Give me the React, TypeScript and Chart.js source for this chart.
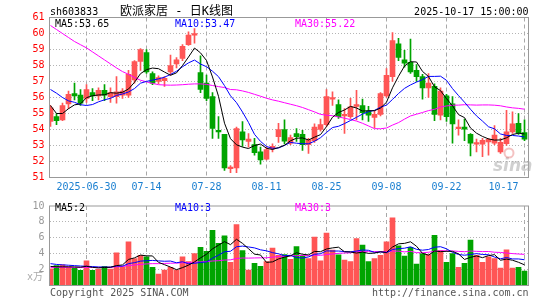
import React, { useEffect, useRef } from 'react';
import { Chart, registerables } from 'chart.js';
Chart.register(...registerables);

const tradeDates = [
  '2025-06-20','2025-06-23','2025-06-24','2025-06-25','2025-06-26','2025-06-27',
  '2025-06-30','2025-07-01','2025-07-02','2025-07-03','2025-07-04',
  '2025-07-07','2025-07-08','2025-07-09','2025-07-10','2025-07-11',
  '2025-07-14','2025-07-15','2025-07-16','2025-07-17','2025-07-18',
  '2025-07-21','2025-07-22','2025-07-23','2025-07-24','2025-07-25',
  '2025-07-28','2025-07-29','2025-07-30','2025-07-31','2025-08-01',
  '2025-08-04','2025-08-05','2025-08-06','2025-08-07','2025-08-08',
  '2025-08-11','2025-08-12','2025-08-13','2025-08-14','2025-08-15',
  '2025-08-18','2025-08-19','2025-08-20','2025-08-21','2025-08-22',
  '2025-08-25','2025-08-26','2025-08-27','2025-08-28','2025-08-29',
  '2025-09-01','2025-09-02','2025-09-03','2025-09-04','2025-09-05',
  '2025-09-08','2025-09-09','2025-09-10','2025-09-11','2025-09-12',
  '2025-09-15','2025-09-16','2025-09-17','2025-09-18','2025-09-19',
  '2025-09-22','2025-09-23','2025-09-24','2025-09-25','2025-09-26',
  '2025-09-29','2025-09-30','2025-10-09','2025-10-10',
  '2025-10-13','2025-10-14','2025-10-15','2025-10-16','2025-10-17',
];

const axisDates = ['2025-06-30','2025-07-14','2025-07-28','2025-08-11','2025-08-25','2025-09-08','2025-09-22','2025-10-17'];

const opens = [54.5,54.8,54.6,55.6,56.25,56.15,55.95,56.3,56.1,56.45,56.05,56.05,56.15,56.15,57.1,58.25,58.8,57.5,57.0,57.05,57.6,58.1,58.45,59.3,59.9,57.55,56.9,56.05,53.95,53.7,51.55,51.6,53.85,53.25,53.05,52.6,52.15,52.8,53.55,54.0,53.15,53.75,53.7,53.05,53.3,54.0,54.3,55.9,55.55,54.85,54.8,55.45,55.5,55.15,54.75,54.95,56.1,57.3,59.35,58.35,58.2,57.7,57.3,56.6,56.7,54.9,56.1,55.6,54.05,54.15,53.7,53.08,53.08,53.22,53.15,52.6,53.12,53.85,54.38,53.8];
const highs = [55.5,55.0,55.65,56.4,56.9,56.5,56.8,56.55,56.6,56.8,56.6,57.3,56.55,57.7,58.3,59.05,59.0,57.6,57.35,57.3,58.65,58.5,59.3,60.1,60.3,58.6,57.4,56.3,54.8,53.7,51.75,54.15,54.5,53.75,53.45,52.9,52.9,53.1,54.38,54.6,53.65,54.05,53.95,53.45,54.35,54.65,56.5,56.35,55.85,55.3,55.95,56.45,55.9,55.45,55.2,56.3,57.8,60.05,59.7,58.95,59.65,58.05,57.45,57.5,56.85,56.6,56.2,56.05,54.6,54.65,53.75,53.4,53.45,53.45,54.25,53.45,55.2,55.1,55.0,54.6];
const lows = [54.2,54.3,54.55,55.3,55.85,55.5,55.7,55.8,55.85,55.8,55.7,55.65,55.95,56.0,56.9,57.7,57.5,56.8,56.85,56.7,57.4,57.85,58.3,59.25,59.4,56.3,55.8,53.45,53.45,51.45,51.3,51.3,52.95,52.9,52.4,51.83,52.1,52.6,53.2,53.1,53.05,53.25,52.7,52.5,53.2,53.9,54.2,55.5,54.7,53.75,54.7,54.6,54.6,54.5,54.1,54.85,56.0,57.0,58.3,57.9,57.5,57.0,55.9,56.0,54.55,54.6,54.5,53.15,53.65,53.3,52.35,52.6,52.3,52.4,53.05,52.5,53.0,53.75,53.7,53.3];
const closes = [55.35,54.55,55.5,56.2,56.1,55.65,56.5,56.1,56.45,56.15,56.3,56.35,56.4,57.45,58.25,59.0,57.6,56.9,57.25,57.2,58.0,58.35,59.2,59.9,60.0,56.5,55.95,54.07,53.85,51.6,51.65,54.05,53.35,53.4,52.55,52.1,52.75,52.95,54.0,53.27,53.5,53.55,53.05,53.35,54.15,54.3,56.05,56.0,54.8,54.95,55.42,55.55,55.05,54.9,54.95,56.25,57.38,59.55,58.5,58.15,57.6,57.3,56.6,56.9,54.95,56.4,54.8,54.35,54.15,54.02,53.15,53.18,53.33,53.38,53.65,53.2,53.85,54.35,53.8,53.4];
const volumes = [2.1,2.5,2.6,2.35,2.15,1.9,3.1,1.9,2.05,2.4,2.05,4.1,2.35,5.5,3.4,3.8,3.6,2.3,1.45,1.95,2.3,1.95,3.6,3.0,4.0,4.8,4.3,6.95,5.3,6.25,2.9,7.65,4.4,1.95,2.8,2.4,3.0,4.7,3.8,3.9,3.3,4.9,3.75,3.4,6.1,3.1,6.6,4.45,3.85,3.2,3.0,5.9,5.1,3.0,3.4,3.8,5.5,8.5,5.0,3.7,4.8,2.7,4.0,3.9,6.3,4.4,2.9,4.0,2.3,2.8,5.7,3.8,2.9,3.6,3.4,2.2,4.5,2.2,2.3,1.8];

const ma5Early = [55.5,55.0,55.0,55.3];
const ma10Early = [56.5,56.27,56.0,55.79,55.7,55.55,55.5,55.56,55.73];
const ma30Early = [60.5,60.25,60.0,59.75,59.5,59.3,59.1,58.85,58.6,58.35,58.1,57.85,57.62,57.45,57.25,57.08,56.98,56.88,56.8,56.78,56.77,56.78,56.8,56.83,56.85,56.85,56.82,56.75,56.68];
const volMa5Early = [2.4,2.35,2.35,2.35];
const volMa10Early = [2.75,2.65,2.6,2.55,2.5,2.45,2.42,2.38,2.33];
const volMa30Early = [2.28,2.28,2.28,2.28,2.27,2.27,2.28,2.28,2.28,2.29,2.3,2.35,2.4,2.5,2.58,2.65,2.72,2.75,2.75,2.78,2.8,2.82,2.86,2.88,2.92,2.97,3.0,3.08,3.12];

const priceTicks = { min: 51, max: 61, step: 1 };
const volTicks = { min: 0, max: 10, step: 2 };

const UP = '#ff5555';
const DOWN = '#00a400';
const MONO = "'DejaVu Sans Mono', monospace";

function movingAvg(values: number[], n: number, early: number[]) {
  return values.map((_, i) => {
    if (i < n - 1) return early[i];
    let s = 0;
    for (let k = i - n + 1; k <= i; k++) s += values[k];
    return s / n;
  });
}

const N = tradeDates.length;
const X_MIN = -1 / 6;
const X_MAX = N - 1 + 2 / 3;
const LAST_LABEL_SHIFT = 3.5;

const axisIdx = axisDates.map((d) => tradeDates.indexOf(d));
const lastIdx = axisIdx[axisIdx.length - 1];

function tickList() {
  const t = axisIdx.slice(0, -1).map((v) => ({ value: v }));
  t.push({ value: lastIdx - LAST_LABEL_SHIFT });
  t.push({ value: lastIdx });
  return t;
}
function tickLabel(v: number) {
  if (v === lastIdx - LAST_LABEL_SHIFT) return axisDates[axisDates.length - 1].slice(5);
  const k = axisIdx.indexOf(v);
  if (k < 0 || v === lastIdx) return '';
  return k === 0 ? axisDates[0] : axisDates[k].slice(5);
}
function vGridColor(ctx: any) {
  return ctx.tick && ctx.tick.value === lastIdx - LAST_LABEL_SHIFT ? 'rgba(0,0,0,0)' : '#a8a8a8';
}

const frame = {
  id: 'frame',
  afterDraw(chart: any) {
    const { ctx, chartArea: a } = chart;
    ctx.save();
    ctx.strokeStyle = '#999';
    ctx.lineWidth = 1;
    ctx.strokeRect(a.left, a.top, a.right - a.left, a.bottom - a.top);
    ctx.restore();
  },
};

function textPlugin(items: { t: string; x: number; y: number; c: string; f: string; align?: CanvasTextAlign }[], extra?: (ctx: CanvasRenderingContext2D) => void) {
  return {
    id: 'texts',
    afterDraw(chart: any) {
      const ctx: CanvasRenderingContext2D = chart.ctx;
      ctx.save();
      ctx.textBaseline = 'alphabetic';
      if (extra) extra(ctx);
      for (const it of items) {
        ctx.font = it.f;
        ctx.fillStyle = it.c;
        ctx.textAlign = it.align || 'left';
        ctx.fillText(it.t, it.x, it.y);
      }
      ctx.restore();
    },
  };
}

export default function App() {
  const priceRef = useRef<HTMLCanvasElement>(null);
  const volRef = useRef<HTMLCanvasElement>(null);

  useEffect(() => {
    const colors = opens.map((o, i) => (closes[i] >= o ? UP : DOWN));
    const ma5 = movingAvg(closes, 5, ma5Early);
    const ma10 = movingAvg(closes, 10, ma10Early);
    const ma30 = movingAvg(closes, 30, ma30Early);
    const vma5 = movingAvg(volumes, 5, volMa5Early);
    const vma10 = movingAvg(volumes, 10, volMa10Early);
    const vma30 = movingAvg(volumes, 30, volMa30Early);
    const pts = (arr: number[]) => arr.map((y, x) => ({ x, y }));
    const line = (label: string, arr: number[], color: string) => ({
      type: 'line' as const,
      label,
      data: pts(arr),
      borderColor: color,
      borderWidth: 1,
      pointRadius: 0,
      fill: false,
      tension: 0,
      clip: 0,
      order: 0,
    });

    const xScale = (showLabels: boolean, h: number) => ({
      type: 'linear' as const,
      offset: false,
      min: X_MIN,
      max: X_MAX,
      afterBuildTicks: (s: any) => { s.ticks = tickList(); },
      afterFit: (s: any) => { s.height = h; },
      ticks: {
        display: showLabels,
        autoSkip: false,
        maxRotation: 0,
        padding: 4,
        color: '#1a7fd0',
        font: { family: MONO, size: 10 },
        callback: (v: any) => tickLabel(Number(v)),
      },
      grid: { color: vGridColor, drawTicks: false, lineWidth: 1, offset: false },
      border: { display: false, dash: [4, 3] },
    });

    const priceChart = new Chart(priceRef.current as HTMLCanvasElement, {
      type: 'bar',
      data: {
        datasets: [
          line('MA5', ma5, '#000000'),
          line('MA10', ma10, '#0000ff'),
          line('MA30', ma30, '#ff00ff'),
          {
            type: 'bar',
            label: 'body',
            data: opens.map((o, i) => ({ x: i, y: [o, closes[i]] })) as any,
            backgroundColor: colors,
            barThickness: 5,
            minBarLength: 1,
            grouped: false,
            clip: 0,
            order: 1,
          } as any,
          {
            type: 'bar',
            label: 'wick',
            data: lows.map((l, i) => ({ x: i, y: [l, highs[i]] })) as any,
            backgroundColor: colors,
            barThickness: 1,
            grouped: false,
            clip: 0,
            order: 2,
          } as any,
        ],
      },
      options: {
        animation: false,
        responsive: false,
        devicePixelRatio: 1,
        layout: { padding: { top: 17.5, right: 16.5, left: 0, bottom: 0 } },
        plugins: { legend: { display: false }, tooltip: { enabled: false } },
        scales: {
          x: xScale(true, 17.5) as any,
          y: {
            min: priceTicks.min,
            max: priceTicks.max,
            afterFit: (s: any) => { s.width = 49.5; },
            ticks: { stepSize: priceTicks.step, autoSkip: false, color: '#ff0000', padding: 5, font: { family: MONO, size: 10 } },
            grid: {
              color: (c: any) => (c.tick && (c.tick.value === priceTicks.min || c.tick.value === priceTicks.max) ? 'rgba(0,0,0,0)' : '#b4b4b4'),
              drawTicks: false,
            },
            border: { display: false, dash: [1, 2] },
          },
        },
      },
      plugins: [
        frame,
        textPlugin(
          [
            { t: 'sh603833', x: 50, y: 15, c: '#000', f: `10px ${MONO}` },
            { t: '欧派家居 - 日K线图', x: 120, y: 14.5, c: '#000', f: "12px 'DejaVu Sans Mono', 'Noto Sans CJK SC'" },
            { t: '2025-10-17 15:00:00', x: 528.5, y: 15, c: '#000', f: `10px ${MONO}`, align: 'right' },
            { t: 'MA5:53.65', x: 55, y: 27, c: '#000', f: `10px ${MONO}` },
            { t: 'MA10:53.47', x: 175, y: 27, c: '#0000ff', f: `10px ${MONO}` },
            { t: 'MA30:55.22', x: 295, y: 27, c: '#ff00ff', f: `10px ${MONO}` },
          ],
          (ctx) => {
            ctx.font = "italic bold 17px 'DejaVu Sans'";
            ctx.fillStyle = 'rgba(170,170,170,0.55)';
            ctx.textAlign = 'left';
            ctx.fillText('sina', 493, 171);
            ctx.strokeStyle = 'rgba(230,120,120,0.45)';
            ctx.lineWidth = 2;
            ctx.beginPath();
            ctx.arc(509, 153, 4.5, 0, Math.PI * 2);
            ctx.stroke();
          }
        ),
      ],
    } as any);

    const volChart = new Chart(volRef.current as HTMLCanvasElement, {
      type: 'bar',
      data: {
        datasets: [
          line('VMA5', vma5, '#000000'),
          line('VMA10', vma10, '#0000ff'),
          line('VMA30', vma30, '#ff00ff'),
          {
            type: 'bar',
            label: 'volume',
            data: volumes.map((v, i) => ({ x: i, y: v })) as any,
            backgroundColor: colors,
            barThickness: 5,
            grouped: false,
            clip: 0,
            order: 1,
          } as any,
        ],
      },
      options: {
        animation: false,
        responsive: false,
        devicePixelRatio: 1,
        layout: { padding: { top: 6.5, right: 16.5, left: 0, bottom: 0 } },
        plugins: { legend: { display: false }, tooltip: { enabled: false } },
        scales: {
          x: xScale(false, 14.5) as any,
          y: {
            min: volTicks.min,
            max: volTicks.max,
            afterFit: (s: any) => { s.width = 49.5; },
            ticks: {
              stepSize: volTicks.step,
              autoSkip: false,
              color: '#999999',
              padding: 5,
              font: { family: MONO, size: 10 },
              callback: (v: any) => (Number(v) === volTicks.min ? '' : String(v)),
            },
            grid: {
              color: (c: any) => (c.tick && (c.tick.value === volTicks.min || c.tick.value === volTicks.max) ? 'rgba(0,0,0,0)' : '#b4b4b4'),
              drawTicks: false,
            },
            border: { display: false, dash: [1, 2] },
          },
        },
      },
      plugins: [
        frame,
        textPlugin([
          { t: 'MA5:2', x: 55, y: 15.5, c: '#000', f: `10px ${MONO}` },
          { t: 'MA10:3', x: 175, y: 15.5, c: '#0000ff', f: `10px ${MONO}` },
          { t: 'MA30:3', x: 295, y: 15.5, c: '#ff00ff', f: `10px ${MONO}` },
          { t: 'x万', x: 43, y: 85, c: '#aaaaaa', f: "10px 'DejaVu Sans Mono', 'Noto Sans CJK SC'", align: 'right' },
          { t: 'Copyright 2025 SINA.COM', x: 50, y: 101, c: '#555', f: `10px ${MONO}` },
          { t: 'http://finance.sina.com.cn', x: 528.5, y: 101, c: '#555', f: `10px ${MONO}`, align: 'right' },
        ]),
      ],
    } as any);

    return () => {
      priceChart.destroy();
      volChart.destroy();
    };
  }, []);

  return (
    <div style={{ position: 'fixed', left: 0, top: 0, width: 545, height: 300, background: '#fff', overflow: 'hidden' }}>
      <canvas ref={priceRef} width={545} height={195} style={{ position: 'absolute', left: 0, top: 0, width: 545, height: 195, display: 'block' }} />
      <canvas ref={volRef} width={545} height={105} style={{ position: 'absolute', left: 0, top: 195, width: 545, height: 105, display: 'block' }} />
    </div>
  );
}
